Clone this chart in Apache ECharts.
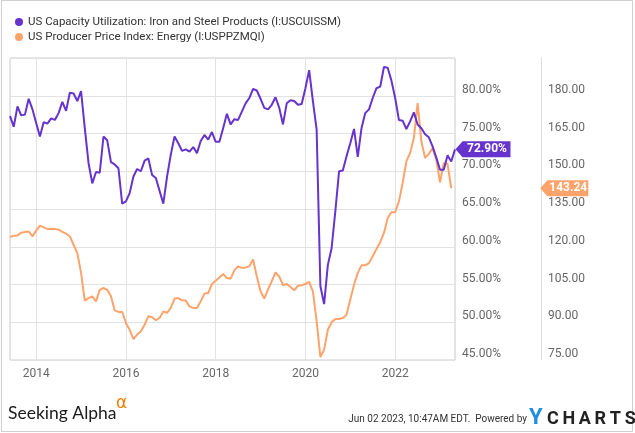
<!DOCTYPE html>
<html>
<head>
<meta charset="utf-8">
<script src="https://cdn.jsdelivr.net/npm/echarts@6/dist/echarts.min.js"></script>
<style>
html,body{margin:0;padding:0;background:#fff;}
#c{width:635px;height:433px;}
</style>
</head>
<body>
<div id="c"></div>
<script>
// Monthly data, end of month, starting May 2013
const startYear = 2013;
const startMonth = 5;
const seriesNames = [
  'US Capacity Utilization: Iron and Steel Products (I:USCUISSM)',
  'US Producer Price Index: Energy (I:USPPZMQI)'
];
const capacityUtil = [
  77.3, 75.9, 78.6, 77.4, 77.5, 79.6, 78.2, 76.4, 74.6, 76.5,
  76.3, 77.0, 76.8, 77.7, 79.2, 78.0, 80.4, 80.3, 79.3, 80.6,
  75.7, 71.1, 68.4, 69.9, 69.8, 74.6, 74.1, 71.2, 70.9, 70.4,
  65.7, 66.0, 67.1, 69.3, 70.3, 70.0, 71.4, 71.7, 69.5, 69.1,
  67.4, 65.7, 69.3, 72.2, 74.6, 73.7, 72.7, 72.9, 72.6, 73.2,
  72.4, 74.0, 74.8, 74.2, 75.2, 73.9, 73.9, 75.7, 77.6, 76.2,
  76.9, 76.8, 77.9, 79.0, 79.7, 80.9, 80.7, 79.6, 78.4, 78.2,
  78.8, 79.8, 78.4, 76.2, 79.0, 79.4, 79.3, 78.8, 78.9, 81.0,
  83.4, 79.3, 75.5, 54.8, 52.4, 57.6, 59.8, 64.7, 70.0, 70.1,
  72.0, 73.7, 75.6, 71.9, 75.7, 77.7, 78.2, 79.7, 81.0, 81.2,
  83.8, 83.7, 82.0, 79.7, 76.8, 76.7, 75.6, 76.6, 77.8, 76.2,
  75.7, 74.9, 74.5, 73.3, 71.8, 70.2, 70.2, 72.1, 71.3, 72.9
];
const ppiEnergy = [
  123.9, 124.4, 124.5, 125.6, 125.9, 126.1, 124.1, 126.4, 128.4, 127.7,
  127.1, 127.2, 127.1, 126.8, 125.9, 125.2, 124.1, 120.8, 117.5, 109.6,
  98.6, 99.6, 100.3, 98.3, 102.9, 103.6, 102.9, 100.3, 94.7, 94.1,
  94.1, 89.7, 87.0, 83.3, 85.1, 86.4, 89.0, 92.4, 92.0, 90.8,
  91.7, 94.3, 93.7, 95.7, 99.4, 99.6, 98.7, 98.6, 96.3, 95.7,
  95.7, 98.3, 101.4, 101.6, 105.2, 106.5, 107.8, 109.2, 107.6, 107.3,
  110.6, 112.2, 111.6, 111.8, 112.2, 114.9, 108.2, 102.3, 99.4, 103.0,
  106.3, 109.8, 108.2, 104.7, 105.2, 104.0, 102.7, 104.5, 104.7, 105.2,
  106.0, 102.3, 90.4, 76.2, 79.1, 87.0, 90.0, 91.3, 91.3, 91.7,
  93.0, 99.0, 104.9, 109.6, 112.6, 112.6, 113.5, 116.2, 119.1, 121.8,
  125.5, 131.4, 133.7, 133.7, 138.0, 145.3, 153.9, 157.3, 163.2, 177.1,
  161.9, 155.3, 156.9, 159.2, 154.6, 145.6, 153.3, 152.9, 143.24
];
const pctTicks = {min: 45, max: 85, interval: 5};
const ppiTicks = {min: 75, max: 195, interval: 15};

// month positions in decimal years (end of month)
const monthPos = capacityUtil.map((_, i) => startYear + (startMonth + i) / 12);

const purple = '#6633cc';
const orange = '#fea36b';

const chart = echarts.init(document.getElementById('c'));
const lastCU = capacityUtil.length - 1;
const lastPPI = ppiEnergy.length - 1;

function tagPath(w, h, tip) {
  return 'path://M0,' + (h / 2) + ' L' + tip + ',0 L' + w + ',0 L' + w + ',' + h + ' L' + tip + ',' + h + ' Z';
}

chart.setOption({
  animation: false,
  backgroundColor: '#fff',
  textStyle: {fontFamily: 'Roboto'},
  legend: {
    orient: 'vertical', left: 15, top: 16, itemGap: 3,
    icon: 'circle', itemWidth: 8, itemHeight: 8, padding: 0,
    textStyle: {fontSize: 11.5, color: '#333', fontFamily: 'Roboto'},
    data: seriesNames
  },
  grid: {
    left: 10, right: 180, top: 58, bottom: 73,
    show: true, borderColor: '#cccccc', borderWidth: 1
  },
  xAxis: {
    type: 'value',
    min: monthPos[0], max: monthPos[lastCU],
    splitNumber: 5,
    axisLine: {show: false}, axisTick: {show: false},
    splitLine: {show: true, lineStyle: {color: '#e2e2e2', width: 1}},
    axisLabel: {
      color: '#666', fontSize: 12, margin: 8,
      showMinLabel: false, showMaxLabel: false,
      formatter: v => Math.abs(v - Math.round(v)) < 1e-6 ? String(Math.round(v)) : ''
    }
  },
  yAxis: [
    {
      type: 'value', position: 'right',
      min: pctTicks.min, max: pctTicks.max, interval: pctTicks.interval,
      axisLine: {show: false}, axisTick: {show: false},
      splitLine: {show: true, lineStyle: {color: '#e2e2e2', width: 1}},
      axisLabel: {
        color: '#666', fontSize: 12, margin: 7, verticalAlign: 'bottom',
        showMaxLabel: false,
        formatter: v => v.toFixed(2) + '%'
      }
    },
    {
      type: 'value', position: 'right', offset: 86,
      min: ppiTicks.min, max: ppiTicks.max, interval: ppiTicks.interval,
      axisLine: {show: true, lineStyle: {color: '#dddddd', width: 1}},
      axisTick: {show: false},
      splitLine: {show: false},
      axisLabel: {
        color: '#666', fontSize: 12, margin: 7, verticalAlign: 'bottom',
        showMaxLabel: false,
        formatter: v => v.toFixed(2)
      }
    }
  ],
  series: [
    {
      name: seriesNames[0], type: 'line', yAxisIndex: 0,
      symbol: 'none', color: purple, z: 3,
      lineStyle: {width: 2, color: purple},
      data: capacityUtil.map((v, i) => [monthPos[i], v]),
      markPoint: {
        symbol: tagPath(55, 16, 7), symbolSize: [55, 16], symbolOffset: [28, 0],
        itemStyle: {color: purple},
        label: {
          show: true, position: 'inside', offset: [4, 0],
          color: '#fff', fontWeight: 'bold', fontSize: 12, fontFamily: 'Roboto',
          formatter: p => p.value.toFixed(2) + '%'
        },
        data: [{coord: [monthPos[lastCU], capacityUtil[lastCU]], value: capacityUtil[lastCU]}]
      }
    },
    {
      name: seriesNames[1], type: 'line', yAxisIndex: 1,
      symbol: 'none', color: orange, z: 2,
      lineStyle: {width: 2, color: orange},
      data: ppiEnergy.map((v, i) => [monthPos[i], v]),
      markPoint: {
        symbol: tagPath(48, 16, 7), symbolSize: [48, 16], symbolOffset: [113, 0],
        itemStyle: {color: orange},
        label: {
          show: true, position: 'inside', offset: [4, 0],
          color: '#fff', fontWeight: 'bold', fontSize: 12, fontFamily: 'Roboto',
          formatter: p => p.value.toFixed(2)
        },
        data: [{coord: [monthPos[lastPPI], ppiEnergy[lastPPI]], value: ppiEnergy[lastPPI]}]
      }
    }
  ],
  graphic: [
    {type: 'rect', shape: {x: 1.5, y: 0.5, width: 631, height: 431}, style: {fill: 'none', stroke: '#cfcfcf', lineWidth: 1}, silent: true},
    {type: 'text', left: 8, top: 404, style: {text: 'Seeking Alpha', fontSize: 17.5, fontFamily: 'Lato', fill: '#1a1a1a'}},
    {type: 'text', left: 116, top: 395, style: {text: 'α', fontSize: 17, fontFamily: 'DejaVu Sans', fill: '#f07d00'}},
    {type: 'text', right: 108, top: 414, style: {text: 'Jun 02 2023, 10:47AM EDT.  Powered by', fontSize: 10, fontFamily: 'Roboto', fill: '#333', align: 'right'}},
    {type: 'text', left: 529, top: 407, style: {text: 'Y', fontSize: 22, fontWeight: 'bold', fontFamily: 'Roboto', fill: '#1e8fe0'}},
    {type: 'text', left: 547, top: 410, style: {text: 'C\u2009H\u2009A\u2009R\u2009T\u2009S', fontSize: 18, fontWeight: 'bold', fontFamily: 'Roboto', fill: '#222'}}
  ]
});
</script>
</body>
</html>
